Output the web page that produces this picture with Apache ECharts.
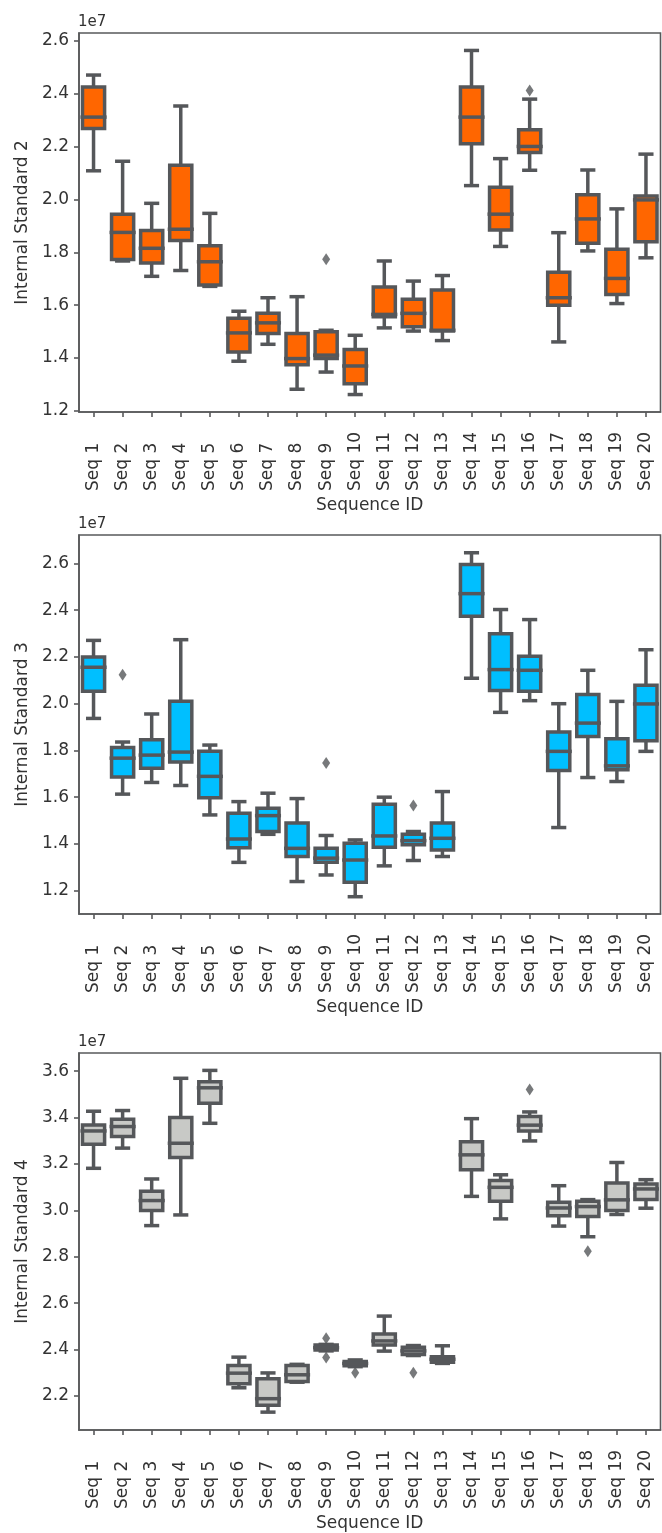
<!DOCTYPE html>
<html><head><meta charset="utf-8">
<script src="https://cdn.jsdelivr.net/npm/echarts@6/dist/echarts.min.js"></script>
<style>html,body{margin:0;padding:0;background:#fff}#chart{width:662px;height:1533px}</style>
</head><body><div id="chart"></div>
<script>
// Values are in units of 1e7 (as the axis offset label shows)
const categories = ['Seq 1','Seq 2','Seq 3','Seq 4','Seq 5','Seq 6','Seq 7','Seq 8','Seq 9','Seq 10',
  'Seq 11','Seq 12','Seq 13','Seq 14','Seq 15','Seq 16','Seq 17','Seq 18','Seq 19','Seq 20'];

// [whisker low, Q1, median, Q3, whisker high]
const is2Stats = [
  [2.108, 2.268, 2.311, 2.425, 2.470],
  [1.767, 1.773, 1.875, 1.944, 2.144],
  [1.709, 1.759, 1.815, 1.882, 1.985],
  [1.731, 1.844, 1.887, 2.129, 2.353],
  [1.671, 1.676, 1.764, 1.825, 1.947],
  [1.388, 1.423, 1.495, 1.550, 1.577],
  [1.452, 1.493, 1.533, 1.569, 1.628],
  [1.282, 1.375, 1.398, 1.493, 1.632],
  [1.347, 1.398, 1.411, 1.499, 1.505],
  [1.262, 1.303, 1.370, 1.432, 1.486],
  [1.514, 1.556, 1.565, 1.669, 1.767],
  [1.502, 1.518, 1.569, 1.622, 1.691],
  [1.466, 1.502, 1.505, 1.657, 1.712],
  [2.052, 2.210, 2.311, 2.425, 2.563],
  [1.822, 1.884, 1.944, 2.046, 2.154],
  [2.110, 2.177, 2.200, 2.263, 2.379],
  [1.461, 1.600, 1.628, 1.724, 1.874],
  [1.805, 1.834, 1.926, 2.017, 2.111],
  [1.606, 1.640, 1.701, 1.811, 1.964],
  [1.779, 1.840, 1.998, 2.013, 2.171]
];
const is2Outliers = [['Seq 9', 1.774], ['Seq 16', 2.412]];

const is3Stats = [
  [1.937, 2.053, 2.156, 2.200, 2.271],
  [1.613, 1.686, 1.767, 1.813, 1.836],
  [1.663, 1.724, 1.780, 1.846, 1.956],
  [1.650, 1.750, 1.793, 2.010, 2.274],
  [1.524, 1.597, 1.689, 1.797, 1.823],
  [1.321, 1.384, 1.421, 1.531, 1.581],
  [1.441, 1.453, 1.521, 1.553, 1.617],
  [1.239, 1.346, 1.381, 1.489, 1.594],
  [1.267, 1.321, 1.339, 1.381, 1.436],
  [1.174, 1.236, 1.331, 1.403, 1.417],
  [1.306, 1.386, 1.434, 1.570, 1.600],
  [1.329, 1.396, 1.414, 1.441, 1.453],
  [1.346, 1.374, 1.424, 1.489, 1.624],
  [2.109, 2.374, 2.471, 2.596, 2.646],
  [1.963, 2.057, 2.146, 2.299, 2.403],
  [2.013, 2.053, 2.143, 2.203, 2.360],
  [1.470, 1.714, 1.796, 1.879, 2.000],
  [1.684, 1.860, 1.917, 2.039, 2.143],
  [1.667, 1.717, 1.734, 1.850, 2.010],
  [1.796, 1.841, 1.999, 2.079, 2.231]
];
const is3Outliers = [['Seq 2', 2.124], ['Seq 9', 1.746], ['Seq 12', 1.564]];

const is4Stats = [
  [3.181, 3.285, 3.342, 3.368, 3.427],
  [3.268, 3.318, 3.361, 3.392, 3.430],
  [2.934, 2.999, 3.042, 3.082, 3.135],
  [2.980, 3.228, 3.289, 3.400, 3.569],
  [3.375, 3.461, 3.528, 3.554, 3.603],
  [2.235, 2.252, 2.298, 2.331, 2.367],
  [2.130, 2.160, 2.188, 2.274, 2.299],
  [2.259, 2.262, 2.291, 2.331, 2.336],
  [2.394, 2.398, 2.408, 2.419, 2.422],
  [2.326, 2.330, 2.340, 2.348, 2.355],
  [2.393, 2.419, 2.437, 2.467, 2.544],
  [2.374, 2.378, 2.394, 2.410, 2.417],
  [2.340, 2.345, 2.358, 2.369, 2.416],
  [3.060, 3.175, 3.239, 3.295, 3.395],
  [2.963, 3.039, 3.099, 3.128, 3.153],
  [3.299, 3.342, 3.367, 3.404, 3.424],
  [2.932, 2.977, 3.010, 3.035, 3.106],
  [2.886, 2.973, 3.016, 3.039, 3.046],
  [2.982, 2.999, 3.045, 3.118, 3.206],
  [3.009, 3.046, 3.092, 3.113, 3.132]
];
const is4Outliers = [['Seq 9', 2.448], ['Seq 9', 2.366], ['Seq 10', 2.300], ['Seq 12', 2.300],
  ['Seq 16', 3.521], ['Seq 18', 2.823]];

const yTicksIS2 = [1.2, 1.4, 1.6, 1.8, 2.0, 2.2, 2.4, 2.6];
const yTicksIS3 = [1.2, 1.4, 1.6, 1.8, 2.0, 2.2, 2.4, 2.6];
const yTicksIS4 = [2.2, 2.4, 2.6, 2.8, 3.0, 3.2, 3.4, 3.6];

const panels = [
  { name: 'Internal Standard 2', stats: is2Stats, outliers: is2Outliers, ticks: yTicksIS2, color: '#FF6600', min: 1.196, max: 2.629, top: 33 },
  { name: 'Internal Standard 3', stats: is3Stats, outliers: is3Outliers, ticks: yTicksIS3, color: '#00BFFF', min: 1.100, max: 2.722, top: 535 },
  { name: 'Internal Standard 4', stats: is4Stats, outliers: is4Outliers, ticks: yTicksIS4, color: '#C8C9C6', min: 2.053, max: 3.678, top: 1053 }
];

const EDGE = '#55575A';
const AXIS = '#58595B';
const TEXT = '#333333';
const FONT = 'DejaVu Sans';
const GRID_LEFT = 79, GRID_W = 581.5, GRID_H = 379;

function boxRenderer(fill) {
  return function (params, api) {
    const i = api.value(0);
    const pMin = api.coord([i, api.value(1)]);
    const yQ1 = api.coord([i, api.value(2)])[1];
    const yMd = api.coord([i, api.value(3)])[1];
    const yQ3 = api.coord([i, api.value(4)])[1];
    const yMax = api.coord([i, api.value(5)])[1];
    const cx = pMin[0], yMin = pMin[1];
    const band = api.size([1, 0])[0];
    const hw = band * 0.38;
    const cw = band * 0.26;
    const mw = hw + 2;
    const st = { stroke: EDGE, lineWidth: 3.5 };
    return {
      type: 'group',
      children: [
        { type: 'line', shape: { x1: cx, y1: yQ3, x2: cx, y2: yMax }, style: st },
        { type: 'line', shape: { x1: cx, y1: yQ1, x2: cx, y2: yMin }, style: st },
        { type: 'line', shape: { x1: cx - cw, y1: yMax, x2: cx + cw, y2: yMax }, style: st },
        { type: 'line', shape: { x1: cx - cw, y1: yMin, x2: cx + cw, y2: yMin }, style: st },
        { type: 'rect', shape: { x: cx - hw, y: yQ3, width: 2 * hw, height: yQ1 - yQ3 }, style: { fill: fill, stroke: EDGE, lineWidth: 3.5 } },
        { type: 'line', shape: { x1: cx - mw, y1: yMd, x2: cx + mw, y2: yMd }, style: st }
      ]
    };
  };
}

const grid = [], xAxis = [], yAxis = [], series = [], graphic = [];
panels.forEach((p, k) => {
  grid.push({ left: GRID_LEFT, top: p.top, width: GRID_W, height: GRID_H, show: true,
    borderColor: AXIS, borderWidth: 1.6, backgroundColor: 'transparent' });
  xAxis.push({
    gridIndex: k, type: 'category', data: categories, boundaryGap: true,
    axisLine: { show: true, lineStyle: { color: AXIS, width: 1.6 } },
    axisTick: { show: true, alignWithLabel: true, length: 5, lineStyle: { color: AXIS, width: 1.6 } },
    axisLabel: { interval: 0, rotate: 90, margin: 8,
      formatter: v => '{a|' + v + '}',
      rich: { a: { width: 71, align: 'left', fontSize: 17, fontFamily: FONT, color: TEXT } },
      fontSize: 17, fontFamily: FONT, color: TEXT },
    splitLine: { show: false },
    name: 'Sequence ID', nameLocation: 'middle', nameGap: 85, nameMoveOverlap: false,
    nameTextStyle: { fontSize: 17, fontFamily: FONT, color: TEXT }
  });
  yAxis.push({
    gridIndex: k, type: 'value', min: p.min, max: p.max,
    axisLine: { show: true, lineStyle: { color: AXIS, width: 1.6 } },
    axisTick: { show: true, length: 5, customValues: p.ticks, lineStyle: { color: AXIS, width: 1.6 } },
    axisLabel: { customValues: p.ticks, margin: 10, fontSize: 17, fontFamily: FONT, color: TEXT,
      formatter: v => Number(v).toFixed(1) },
    splitLine: { show: false },
    name: p.name, nameLocation: 'middle', nameGap: 48, nameRotate: 90, nameMoveOverlap: false,
    nameTextStyle: { fontSize: 17, fontFamily: FONT, color: TEXT }
  });
  series.push({
    type: 'custom', xAxisIndex: k, yAxisIndex: k,
    renderItem: boxRenderer(p.color),
    encode: { x: 0, y: [1, 2, 3, 4, 5] },
    data: p.stats.map((s, i) => [i].concat(s)),
    silent: true
  });
  series.push({
    type: 'scatter', xAxisIndex: k, yAxisIndex: k,
    symbol: 'diamond', symbolSize: [8, 12],
    itemStyle: { color: EDGE },
    data: p.outliers,
    silent: true
  });
  graphic.push({ type: 'text', left: GRID_LEFT - 1, top: p.top - 18,
    style: { text: '1e7', font: '15px "DejaVu Sans"', fill: TEXT } });
});

const chart = echarts.init(document.getElementById('chart'), null, { renderer: 'canvas' });
chart.setOption({ animation: false, backgroundColor: '#ffffff', grid, xAxis, yAxis, series, graphic });
</script>
</body></html>
